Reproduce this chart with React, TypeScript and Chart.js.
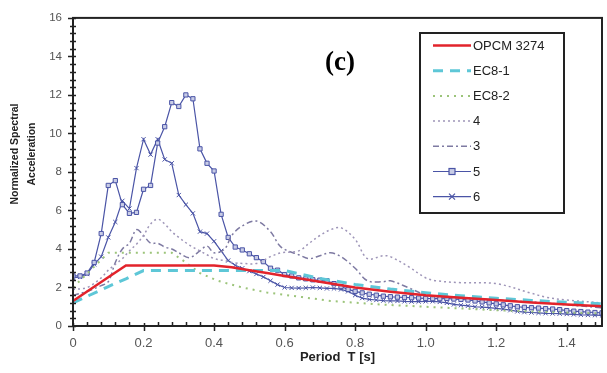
import React, { useEffect, useRef } from 'react';
import { Chart, registerables } from 'chart.js';
Chart.register(...registerables);

// ---- data ----
const codeT = [0, 0.1, 0.15, 0.2, 0.25, 0.3, 0.35, 0.4, 0.45, 0.5, 0.55, 0.6, 0.7, 0.8, 0.9, 1.0, 1.1, 1.2, 1.3, 1.4, 1.5];
const opcm3274 = [1.3, 2.53, 3.14, 3.14, 3.14, 3.14, 3.14, 3.14, 3.05, 2.9, 2.75, 2.6, 2.3, 2.0, 1.78, 1.6, 1.47, 1.35, 1.22, 1.12, 1.03];
const ec81 = [1.2, 2.05, 2.45, 2.88, 2.88, 2.88, 2.88, 2.88, 2.88, 2.88, 2.88, 2.88, 2.47, 2.16, 1.92, 1.73, 1.57, 1.44, 1.33, 1.23, 1.15];
const ec82T = [0, 0.1, 0.28, 0.32, 0.36, 0.41, 0.48, 0.55, 0.65, 0.73, 0.87, 1.0, 1.2, 1.35, 1.5];
const ec82 = [2.0, 3.8, 3.8, 3.3, 2.75, 2.35, 2.0, 1.74, 1.5, 1.3, 1.12, 1.0, 0.82, 0.72, 0.65];

const periods34 = [0, 0.04, 0.08, 0.1, 0.12, 0.14, 0.16, 0.18, 0.2, 0.22, 0.24, 0.26, 0.28, 0.3, 0.33, 0.36, 0.38, 0.4, 0.43, 0.45, 0.48, 0.52, 0.56, 0.59, 0.64, 0.67, 0.7, 0.73, 0.76, 0.8, 0.835, 0.88, 0.9, 0.95, 1.0, 1.03, 1.1, 1.2, 1.3, 1.34, 1.4, 1.5];
const rec3 = [1.6, 1.8, 2.1, 2.3, 3.3, 4.0, 4.3, 5.0, 4.7, 4.3, 4.3, 4.1, 4.0, 3.8, 3.55, 3.9, 4.15, 3.8, 4.0, 4.7, 5.2, 5.45, 4.9, 4.1, 3.7, 3.5, 3.65, 3.8, 3.6, 3.0, 2.35, 2.3, 2.35, 2.0, 1.6, 1.5, 1.45, 1.35, 1.25, 1.2, 1.1, 0.95];
const rec4 = [1.9, 2.0, 2.5, 2.9, 3.2, 3.5, 3.9, 4.25, 4.7, 5.3, 5.55, 5.3, 4.9, 4.6, 4.2, 3.9, 3.7, 3.5, 3.4, 3.3, 3.25, 3.25, 3.6, 3.8, 3.9, 4.3, 4.7, 5.0, 5.1, 4.5, 3.5, 3.65, 3.6, 3.1, 2.5, 2.35, 2.25, 2.2, 1.7, 1.5, 1.35, 1.2];

const periods56 = [0, 0.02, 0.04, 0.06, 0.08, 0.1, 0.12, 0.14, 0.16, 0.18, 0.2, 0.22, 0.24, 0.26, 0.28, 0.3, 0.32, 0.34, 0.36, 0.38, 0.4, 0.42, 0.44, 0.46, 0.48, 0.5, 0.52, 0.54, 0.56, 0.58, 0.6, 0.62, 0.64, 0.66, 0.68, 0.7, 0.72, 0.74, 0.76, 0.78, 0.8, 0.82, 0.84, 0.86, 0.88, 0.9, 0.92, 0.94, 0.96, 0.98, 1.0, 1.02, 1.04, 1.06, 1.08, 1.1, 1.12, 1.14, 1.16, 1.18, 1.2, 1.22, 1.24, 1.26, 1.28, 1.3, 1.32, 1.34, 1.36, 1.38, 1.4, 1.42, 1.44, 1.46, 1.48, 1.5];
const rec5 = [2.6, 2.6, 2.75, 3.3, 4.8, 7.3, 7.55, 6.3, 5.85, 5.9, 7.1, 7.3, 9.5, 10.35, 11.6, 11.4, 12.0, 11.8, 9.2, 8.45, 8.05, 5.8, 4.6, 4.1, 3.95, 3.75, 3.55, 3.34, 3.0, 2.9, 2.67, 2.6, 2.5, 2.45, 2.4, 2.38, 2.35, 2.2, 2.05, 1.9, 1.8, 1.72, 1.65, 1.6, 1.55, 1.52, 1.5, 1.48, 1.47, 1.45, 1.43, 1.42, 1.42, 1.43, 1.4, 1.38, 1.35, 1.3, 1.25, 1.2, 1.15, 1.1, 1.05, 1.0, 0.97, 0.95, 0.93, 0.9, 0.88, 0.85, 0.8, 0.77, 0.75, 0.72, 0.7, 0.68];
const rec6 = [2.5, 2.55, 2.7, 3.2, 3.6, 4.6, 5.4, 6.5, 6.1, 8.2, 9.7, 8.9, 9.7, 8.65, 8.45, 6.8, 6.3, 5.85, 4.9, 4.8, 4.4, 3.9, 3.4, 3.15, 3.0, 2.85, 2.7, 2.55, 2.35, 2.15, 2.0, 1.98, 1.97, 1.98, 2.0, 1.98, 1.95, 1.95, 1.9, 1.8, 1.6, 1.45, 1.38, 1.35, 1.32, 1.3, 1.3, 1.28, 1.27, 1.27, 1.28, 1.28, 1.25, 1.2, 1.12, 1.08, 1.05, 1.0, 0.98, 0.95, 0.92, 0.88, 0.82, 0.76, 0.72, 0.7, 0.68, 0.66, 0.65, 0.64, 0.62, 0.6, 0.58, 0.57, 0.56, 0.55];

const seriesLabels = ['OPCM 3274', 'EC8-1', 'EC8-2', '4', '3', '5', '6'];
const xTitle = 'Period  T [s]';
const yTitleLines = ['Normalized Spectral', 'Acceleration'];
const panelTag = '(c)';

const pts = (xs: number[], ys: number[]) => xs.map((x, i) => ({ x, y: ys[i] }));

const BLUE = '#4a54a6';
const styles = [
  { color: '#e2232b', width: 2.5, dash: [] as number[] },
  { color: '#5ec7d7', width: 3, dash: [10, 7] },
  { color: '#9cc47a', width: 2, dash: [2, 5] },
  { color: '#9e95b8', width: 1.5, dash: [2, 3] },
  { color: '#7e7aa2', width: 1.5, dash: [6, 3, 2, 3] },
  { color: BLUE, width: 1.2, dash: [] as number[], marker: 'rect' },
  { color: BLUE, width: 1.2, dash: [] as number[], marker: 'crossRot' },
];

const decorPlugin = {
  id: 'decor',
  afterDraw(chart: any) {
    const { ctx, chartArea: a, scales } = chart;
    const x = scales.x, y = scales.y;
    ctx.save();
    // frame
    ctx.setLineDash([]);
    ctx.strokeStyle = '#222';
    ctx.lineWidth = 2;
    ctx.strokeRect(a.left, a.top, a.right - a.left, a.bottom - a.top);
    // x ticks
    ctx.lineWidth = 1.5;
    ctx.beginPath();
    for (let i = 0; i <= 37; i++) {
      const px = Math.round(x.getPixelForValue(i * 0.04)) + 0.5;
      if (i % 5 === 0) {
        ctx.moveTo(px, a.bottom - 3);
        ctx.lineTo(px, a.bottom + 5);
      } else {
        ctx.moveTo(px, a.bottom - 4);
        ctx.lineTo(px, a.bottom);
      }
    }
    // y ticks
    for (let i = 0; i <= 40; i++) {
      const py = Math.round(y.getPixelForValue(i * 0.4)) + 0.5;
      if (i % 5 === 0) {
        ctx.moveTo(a.left - 5, py);
        ctx.lineTo(a.left + 3, py);
      } else {
        ctx.moveTo(a.left - 3, py);
        ctx.lineTo(a.left + 3, py);
      }
    }
    ctx.stroke();

    // y title
    ctx.fillStyle = '#222';
    ctx.font = 'bold 10.5px "Liberation Sans", Arial, sans-serif';
    ctx.textAlign = 'center';
    ctx.textBaseline = 'middle';
    ctx.save();
    ctx.translate(15, 154);
    ctx.rotate(-Math.PI / 2);
    ctx.fillText(yTitleLines[0], 0, 0);
    ctx.restore();
    ctx.save();
    ctx.translate(32, 154);
    ctx.rotate(-Math.PI / 2);
    ctx.fillText(yTitleLines[1], 0, 0);
    ctx.restore();

    // panel tag
    ctx.fillStyle = '#000';
    ctx.font = 'bold 27px "Liberation Serif", "Times New Roman", serif';
    ctx.fillText(panelTag, 340, 63);

    // legend
    const lx = 420, ly = 33, lw = 144, lh = 180;
    ctx.fillStyle = '#fff';
    ctx.fillRect(lx, ly, lw, lh);
    ctx.strokeStyle = '#222';
    ctx.lineWidth = 2;
    ctx.strokeRect(lx, ly, lw, lh);
    ctx.font = '13px "Liberation Sans", Arial, sans-serif';
    ctx.textAlign = 'left';
    seriesLabels.forEach((lab, i) => {
      const st: any = styles[i];
      const cy = 45.5 + i * 25.2;
      ctx.strokeStyle = st.color;
      ctx.lineWidth = st.width;
      ctx.setLineDash(st.dash);
      ctx.beginPath();
      ctx.moveTo(433, cy);
      ctx.lineTo(471, cy);
      ctx.stroke();
      ctx.setLineDash([]);
      if (st.marker === 'rect') {
        ctx.fillStyle = '#c8cce6';
        ctx.lineWidth = 1.2;
        ctx.fillRect(449, cy - 3, 6, 6);
        ctx.strokeRect(449, cy - 3, 6, 6);
      } else if (st.marker === 'crossRot') {
        ctx.lineWidth = 1.2;
        ctx.beginPath();
        ctx.moveTo(449, cy - 3); ctx.lineTo(455, cy + 3);
        ctx.moveTo(455, cy - 3); ctx.lineTo(449, cy + 3);
        ctx.stroke();
      }
      ctx.fillStyle = '#222';
      ctx.fillText(lab, 473, cy + 0.5);
    });
    ctx.restore();
  },
};

export default function App() {
  const ref = useRef<HTMLCanvasElement | null>(null);
  useEffect(() => {
    document.body.style.margin = '0';
    const canvas = ref.current!;
    const mk = (i: number, data: any[], extra: any = {}) => ({
      label: seriesLabels[i],
      data,
      borderColor: styles[i].color,
      backgroundColor: styles[i].color,
      borderWidth: styles[i].width,
      borderDash: styles[i].dash,
      pointRadius: 0,
      tension: 0,
      fill: false,
      ...extra,
    });
    const chart = new Chart(canvas, {
      type: 'line',
      data: {
        datasets: [
          mk(0, pts(codeT, opcm3274)),
          mk(1, pts(codeT, ec81)),
          mk(2, pts(ec82T, ec82)),
          mk(3, pts(periods34, rec4), { tension: 0.35 }),
          mk(4, pts(periods34, rec3), { tension: 0.35 }),
          mk(5, pts(periods56, rec5), { pointStyle: 'rect', pointRadius: 3, pointBorderWidth: 1, pointBackgroundColor: '#c8cce6', pointBorderColor: BLUE }),
          mk(6, pts(periods56, rec6), { pointStyle: 'crossRot', pointRadius: 3, pointBorderWidth: 1, pointBorderColor: BLUE }),
        ],
      },
      options: {
        responsive: false,
        animation: false,
        devicePixelRatio: 1,
        layout: { padding: { top: 14, right: 2, left: 0, bottom: 0 } },
        plugins: { legend: { display: false }, tooltip: { enabled: false } },
        scales: {
          x: {
            type: 'linear',
            min: 0,
            max: 1.5,
            afterFit: (s: any) => { s.height = 47; },
            grid: { display: false, drawTicks: false },
            border: { display: false },
            ticks: { stepSize: 0.2, includeBounds: false, padding: 10, color: '#555', font: { size: 13, family: '"Liberation Sans", Arial, sans-serif' } },
            title: { display: true, text: xTitle, color: '#222', font: { size: 13, weight: 'bold', family: '"Liberation Sans", Arial, sans-serif' }, padding: { top: 0, bottom: 8 } },
          },
          y: {
            type: 'linear',
            min: 0,
            max: 16,
            afterFit: (s: any) => { s.width = 73; },
            grid: { display: false, drawTicks: false },
            border: { display: false },
            ticks: { stepSize: 2, padding: 11, color: '#555', font: { size: 11.5, family: '"Liberation Sans", Arial, sans-serif' } },
          },
        },
      },
      plugins: [decorPlugin],
    } as any);
    return () => chart.destroy();
  }, []);
  return (
    <div style={{ width: 607, height: 373 }}>
      <canvas ref={ref} width={607} height={373} />
    </div>
  );
}
